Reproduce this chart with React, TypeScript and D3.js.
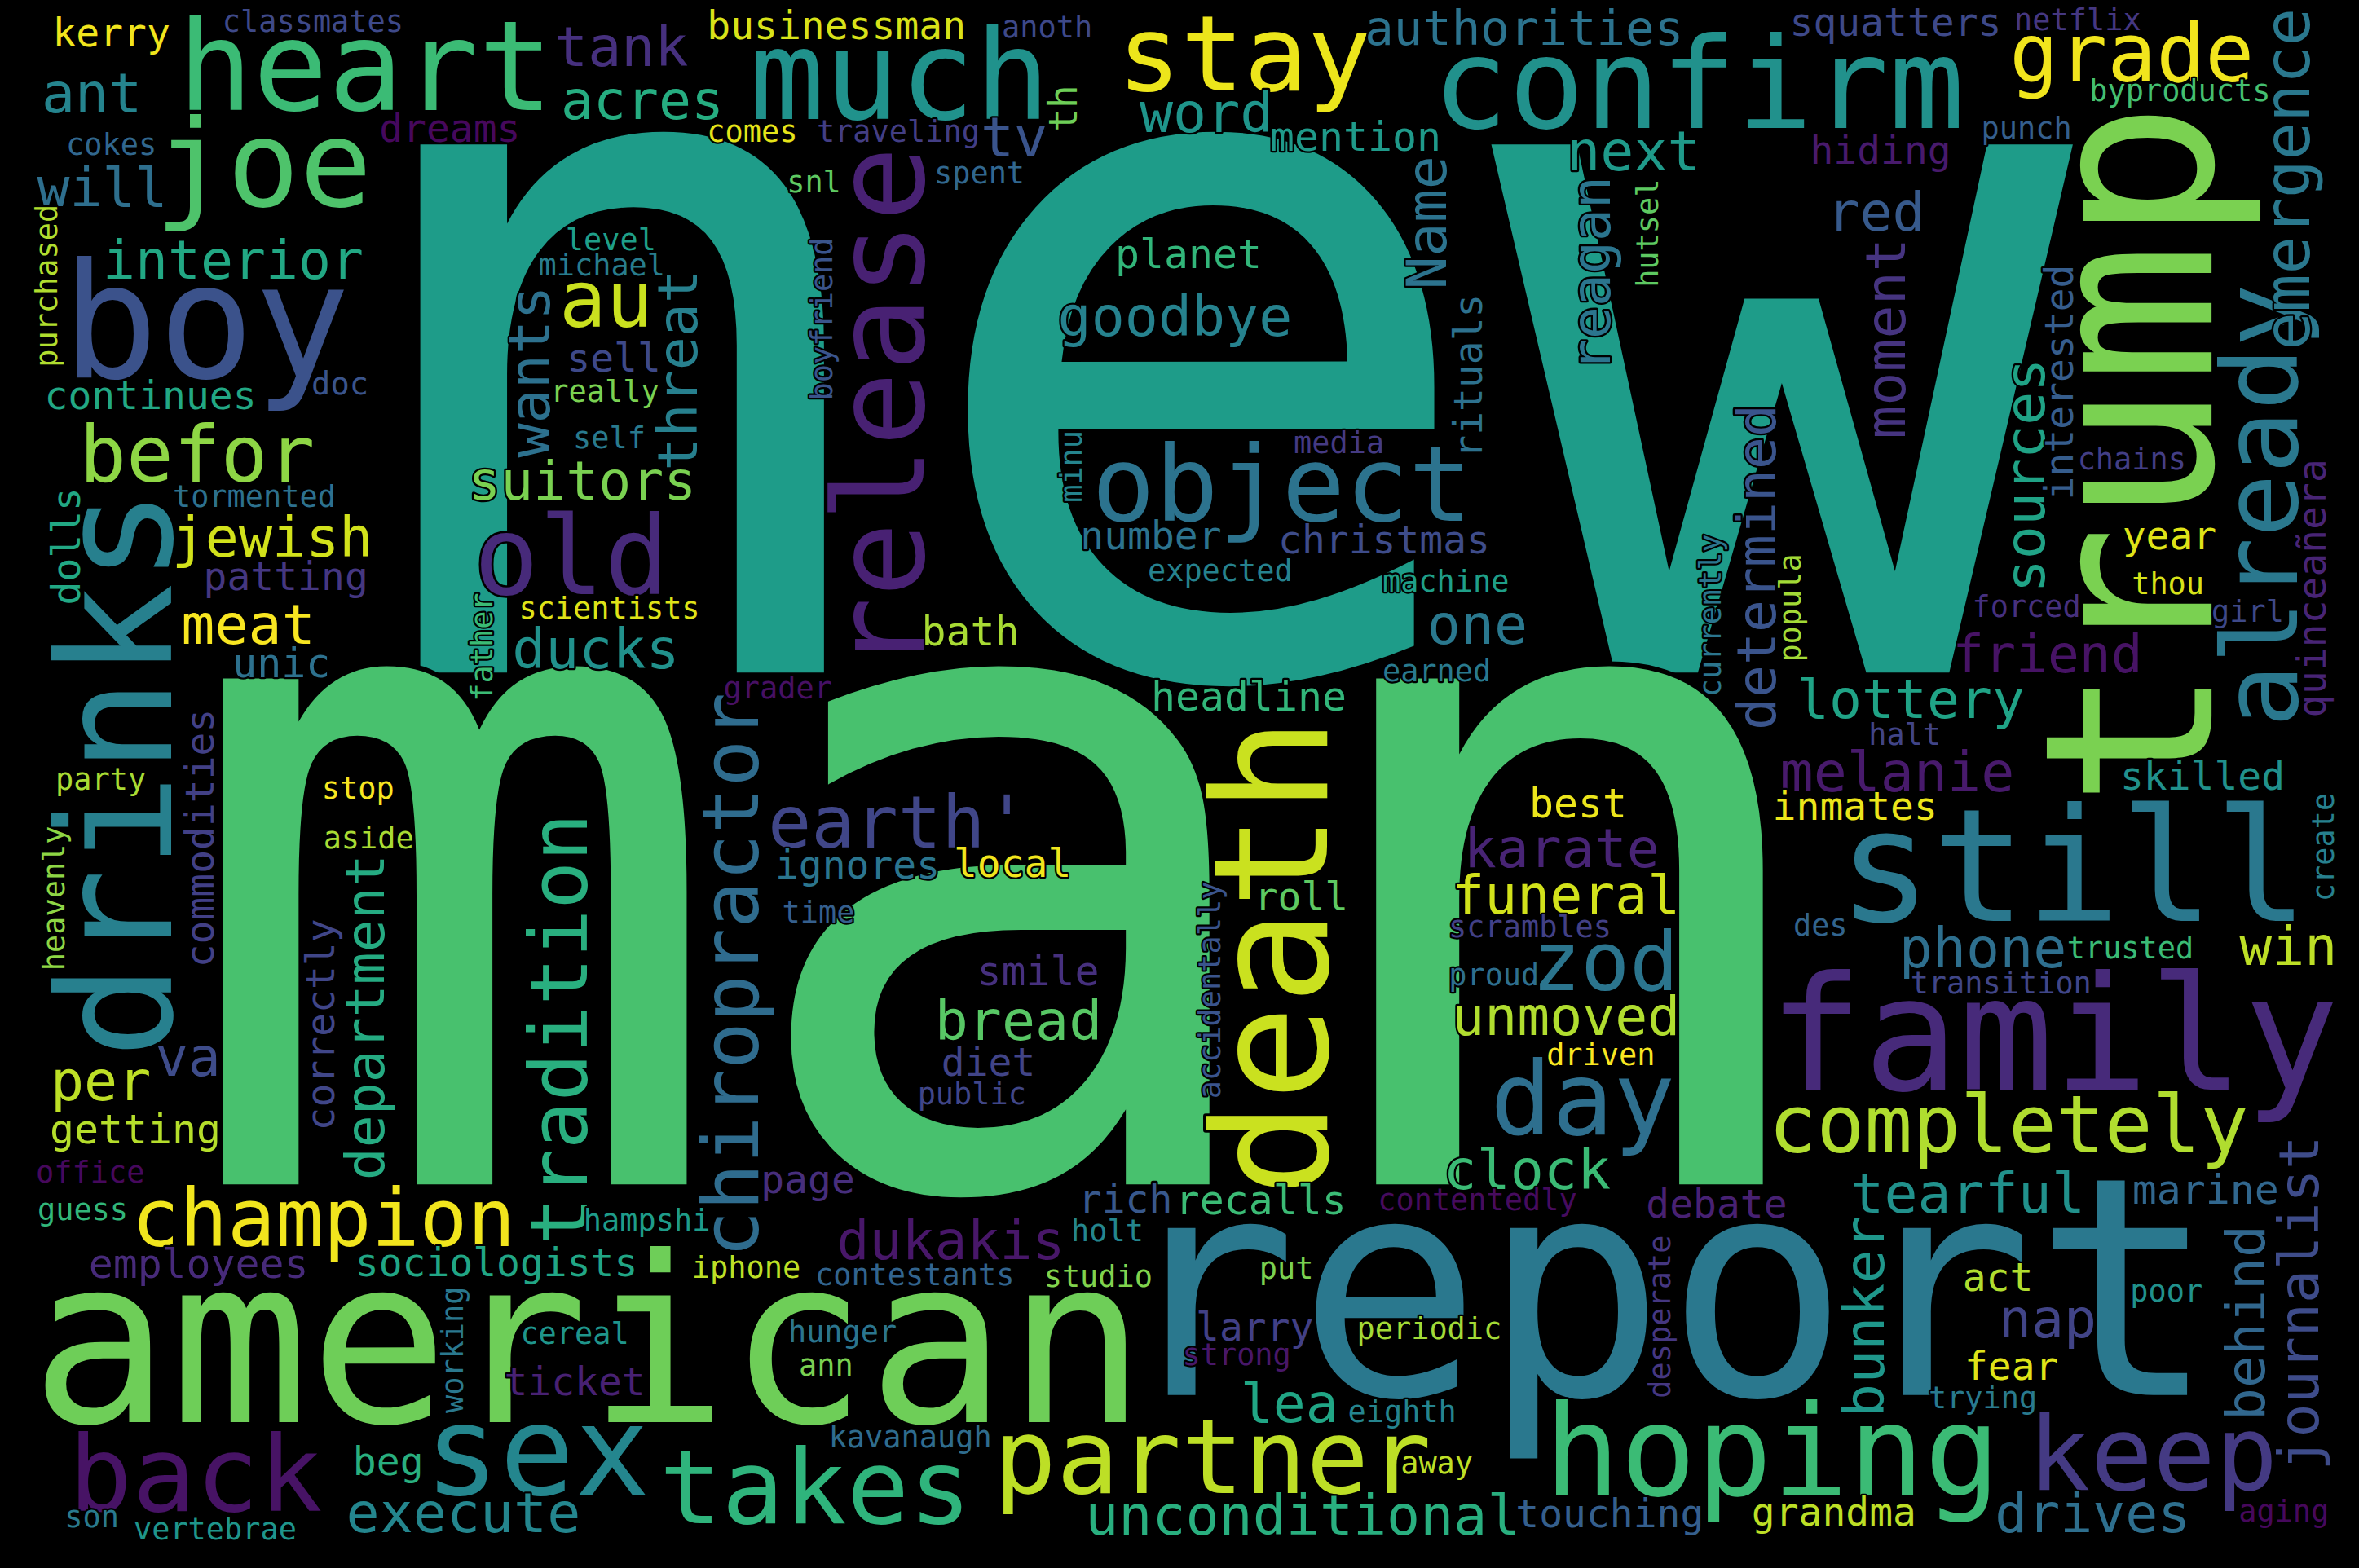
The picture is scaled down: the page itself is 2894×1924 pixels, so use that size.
import { useEffect, useRef } from "react";
import * as d3 from "d3";

const W = 2894;
const H = 1924;

// Layout frame the positions were read in (scaled up to the page below)
const FRAME_W = 1568;
const FRAME_H = 1042;

// [text, weight (font size in frame units), x, y, vertical, viridis tone]
// horizontal: x = centre, y = baseline; vertical (reads bottom-up): x = baseline, y = centre
type Word = [string, number, number, number, number, number];

const bigWords: Word[] = [
  ["new", 642, 798, 447, 0, 0.55],
  ["man", 615, 671, 787, 0, 0.71],
  ["report", 203, 1107, 927, 0, 0.4],
  ["american", 154, 391, 945, 0, 0.78],
  ["trump", 156, 1470, 302, 1, 0.8],
  ["family", 105, 1365, 724, 0, 0.12],
  ["still", 104, 1378, 612, 0, 0.4],
  ["death", 106, 882, 636, 1, 0.92],
  ["drinks", 105, 114, 514, 1, 0.43],
  ["boy", 106, 137, 251, 0, 0.25],
  ["hoping", 84, 1178, 994, 0, 0.68],
  ["release", 83, 614, 272, 1, 0.09],
  ["heart", 83, 243, 73, 0, 0.68],
  ["much", 83, 598, 79, 0, 0.51],
  ["confirm", 84, 1129, 85, 0, 0.5],
  ["sex", 83, 357, 993, 0, 0.46],
  ["joe", 80, 175, 137, 0, 0.72],
  ["old", 72, 380, 395, 0, 0.12],
  ["object", 70, 852, 346, 0, 0.38],
  ["stay", 70, 827, 60, 0, 0.97],
  ["already", 70, 1527, 336, 1, 0.4],
  ["back", 70, 130, 1004, 0, 0.05],
  ["takes", 69, 542, 1012, 0, 0.65],
  ["partner", 69, 806, 992, 0, 0.9],
  ["keep", 69, 1431, 990, 0, 0.17],
  ["day", 68, 1052, 754, 0, 0.36],
];

const midWords: Word[] = [
  ["grade", 54, 1417, 54, 0, 0.98],
  ["befor", 52, 131, 320, 0, 0.83],
  ["au", 52, 403, 217, 0, 0.92],
  ["champion", 53, 215, 828, 0, 0.98],
  ["completely", 53, 1335, 766, 0, 0.88],
  ["zod", 54, 1067, 658, 0, 0.39],
  ["earth'", 48, 597, 563, 0, 0.21],
  ["tradition", 53, 390, 684, 1, 0.63],
  ["chiropractor", 52, 504, 648, 1, 0.35],
  ["emergence", 42, 1535, 119, 1, 0.4],
  ["ant", 37, 61, 75, 0, 0.45],
  ["tank", 37, 413, 44, 0, 0.14],
  ["acres", 36, 427, 79, 0, 0.62],
  ["will", 36, 68, 137, 0, 0.36],
  ["interior", 36, 155, 185, 0, 0.6],
  ["suitors", 36, 387, 332, 0, 0.8],
  ["next", 37, 1086, 113, 0, 0.54],
  ["red", 36, 1247, 153, 0, 0.28],
  ["word", 37, 802, 88, 0, 0.52],
  ["tv", 37, 674, 104, 0, 0.26],
  ["goodbye", 37, 781, 223, 0, 0.44],
  ["jewish", 37, 181, 370, 0, 0.93],
  ["meat", 37, 165, 428, 0, 0.99],
  ["ducks", 37, 396, 444, 0, 0.5],
  ["one", 37, 982, 428, 0, 0.4],
  ["friend", 35, 1361, 447, 0, 0.05],
  ["lottery", 36, 1270, 477, 0, 0.58],
  ["melanie", 37, 1261, 526, 0, 0.07],
  ["karate", 36, 1038, 576, 0, 0.1],
  ["funeral", 36, 1041, 607, 0, 0.93],
  ["phone", 37, 1318, 643, 0, 0.36],
  ["win", 36, 1521, 641, 0, 0.9],
  ["bread", 37, 677, 691, 0, 0.74],
  ["unmoved", 36, 1041, 688, 0, 0.88],
  ["va", 36, 125, 715, 0, 0.23],
  ["per", 37, 67, 731, 0, 0.9],
  ["clock", 37, 1015, 790, 0, 0.68],
  ["tearful", 37, 1308, 806, 0, 0.5],
  ["dukakis", 36, 632, 837, 0, 0.06],
  ["nap", 36, 1361, 889, 0, 0.2],
  ["lea", 36, 857, 945, 0, 0.59],
  ["execute", 37, 308, 1018, 0, 0.46],
  ["drives", 36, 1391, 1018, 0, 0.36],
  ["unconditional", 37, 866, 1020, 0, 0.63],
  ["wants", 38, 365, 247, 1, 0.37],
  ["threat", 37, 463, 246, 1, 0.43],
  ["reagan", 36, 1070, 182, 1, 0.39],
  ["moment", 37, 1266, 225, 1, 0.15],
  ["sources", 37, 1359, 316, 1, 0.58],
  ["determined", 36, 1180, 377, 1, 0.26],
  ["Name", 37, 961, 148, 1, 0.38],
  ["department", 36, 255, 676, 1, 0.61],
  ["bunker", 37, 1252, 875, 1, 0.53],
  ["behind", 36, 1505, 879, 1, 0.33],
  ["journalist", 37, 1541, 866, 1, 0.23],
];

const smallWords: Word[] = [
  ["kerry", 26, 74, 31, 0, 0.98],
  ["businessman", 26, 556, 26, 0, 0.94],
  ["squatters", 26, 1260, 24, 0, 0.22],
  ["authorities", 32, 1013, 30, 0, 0.38],
  ["dreams", 26, 299, 94, 0, 0.02],
  ["continues", 26, 100, 272, 0, 0.6],
  ["sell", 26, 408, 247, 0, 0.22],
  ["hiding", 26, 1250, 109, 0, 0.07],
  ["mention", 27, 901, 100, 0, 0.54],
  ["planet", 27, 790, 178, 0, 0.66],
  ["patting", 26, 190, 392, 0, 0.16],
  ["unic", 27, 187, 450, 0, 0.37],
  ["number", 26, 765, 365, 0, 0.38],
  ["christmas", 26, 920, 368, 0, 0.23],
  ["bath", 27, 645, 429, 0, 0.87],
  ["headline", 27, 830, 472, 0, 0.66],
  ["ignores", 26, 570, 584, 0, 0.39],
  ["local", 26, 673, 583, 0, 0.98],
  ["roll", 26, 865, 605, 0, 0.75],
  ["smile", 27, 690, 655, 0, 0.14],
  ["diet", 26, 657, 715, 0, 0.2],
  ["best", 27, 1049, 543, 0, 0.97],
  ["year", 26, 1442, 365, 0, 0.95],
  ["skilled", 26, 1464, 525, 0, 0.5],
  ["inmates", 26, 1233, 545, 0, 0.97],
  ["getting", 27, 90, 760, 0, 0.89],
  ["employees", 27, 132, 849, 0, 0.12],
  ["sociologists", 26, 330, 848, 0, 0.59],
  ["page", 26, 537, 793, 0, 0.13],
  ["rich", 26, 748, 806, 0, 0.27],
  ["recalls", 27, 838, 807, 0, 0.68],
  ["debate", 26, 1141, 809, 0, 0.09],
  ["marine", 27, 1466, 800, 0, 0.33],
  ["larry", 26, 834, 891, 0, 0.19],
  ["act", 26, 1328, 858, 0, 0.88],
  ["fear", 26, 1337, 917, 0, 0.95],
  ["ticket", 26, 382, 927, 0, 0.09],
  ["beg", 26, 258, 980, 0, 0.63],
  ["grandma", 26, 1219, 1014, 0, 0.9],
  ["touching", 26, 1070, 1015, 0, 0.3],
  ["dolls", 26, 53, 363, 1, 0.6],
  ["th", 26, 716, 72, 1, 0.78],
  ["interested", 26, 1378, 254, 1, 0.29],
  ["quinceañera", 26, 1546, 391, 1, 0.1],
  ["rituals", 26, 985, 250, 1, 0.37],
  ["commodities", 26, 142, 557, 1, 0.19],
  ["correctly", 26, 222, 681, 1, 0.21],
];

const tinyWords: Word[] = [
  ["classmates", 20, 208, 21, 0, 0.22],
  ["anoth", 20, 696, 25, 0, 0.22],
  ["netflix", 20, 1381, 20, 0, 0.16],
  ["cokes", 20, 74, 103, 0, 0.33],
  ["byproducts", 20, 1449, 67, 0, 0.7],
  ["punch", 20, 1347, 92, 0, 0.3],
  ["comes", 20, 500, 94, 0, 0.96],
  ["traveling", 20, 597, 94, 0, 0.18],
  ["spent", 20, 651, 122, 0, 0.33],
  ["snl", 20, 541, 128, 0, 0.75],
  ["level", 20, 406, 166, 0, 0.56],
  ["michael", 20, 400, 183, 0, 0.42],
  ["doc", 21, 226, 262, 0, 0.26],
  ["really", 20, 402, 267, 0, 0.8],
  ["self", 20, 405, 298, 0, 0.41],
  ["tormented", 20, 169, 337, 0, 0.37],
  ["media", 20, 890, 301, 0, 0.17],
  ["chains", 20, 1417, 312, 0, 0.18],
  ["expected", 20, 811, 386, 0, 0.44],
  ["machine", 20, 961, 393, 0, 0.56],
  ["scientists", 20, 405, 411, 0, 0.95],
  ["thou", 20, 1441, 395, 0, 0.94],
  ["girl", 20, 1494, 413, 0, 0.22],
  ["forced", 20, 1347, 410, 0, 0.14],
  ["earned", 20, 955, 453, 0, 0.41],
  ["grader", 20, 517, 464, 0, 0.04],
  ["halt", 20, 1266, 495, 0, 0.2],
  ["party", 20, 67, 525, 0, 0.87],
  ["stop", 20, 238, 531, 0, 0.99],
  ["aside", 20, 245, 564, 0, 0.87],
  ["time", 20, 544, 613, 0, 0.3],
  ["scrambles", 20, 1017, 623, 0, 0.19],
  ["des", 20, 1210, 622, 0, 0.32],
  ["proud", 20, 993, 655, 0, 0.36],
  ["trusted", 20, 1416, 637, 0, 0.68],
  ["transition", 20, 1330, 660, 0, 0.21],
  ["driven", 20, 1064, 708, 0, 0.99],
  ["public", 20, 646, 734, 0, 0.21],
  ["office", 20, 60, 786, 0, 0.02],
  ["guess", 20, 55, 811, 0, 0.66],
  ["hampshi", 20, 430, 818, 0, 0.55],
  ["contentedly", 20, 982, 804, 0, 0.03],
  ["holt", 20, 736, 825, 0, 0.46],
  ["iphone", 20, 496, 849, 0, 0.9],
  ["contestants", 20, 608, 854, 0, 0.32],
  ["studio", 20, 730, 855, 0, 0.81],
  ["put", 20, 855, 850, 0, 0.8],
  ["poor", 20, 1440, 865, 0, 0.5],
  ["cereal", 20, 382, 893, 0, 0.52],
  ["hunger", 20, 560, 892, 0, 0.39],
  ["periodic", 20, 950, 890, 0, 0.86],
  ["strong", 20, 822, 907, 0, 0.06],
  ["ann", 20, 549, 914, 0, 0.8],
  ["eighth", 20, 932, 945, 0, 0.45],
  ["trying", 20, 1318, 936, 0, 0.41],
  ["kavanaugh", 20, 605, 962, 0, 0.35],
  ["away", 20, 955, 979, 0, 0.9],
  ["son", 20, 61, 1015, 0, 0.41],
  ["vertebrae", 20, 143, 1023, 0, 0.52],
  ["aging", 20, 1518, 1011, 0, 0.02],
  ["purchased", 20, 38, 190, 1, 0.88],
  ["hutsel", 20, 1102, 155, 1, 0.75],
  ["boyfriend", 20, 553, 212, 1, 0.26],
  ["minu", 20, 719, 310, 1, 0.45],
  ["currently", 20, 1144, 409, 1, 0.39],
  ["popula", 20, 1197, 404, 1, 0.86],
  ["create", 20, 1551, 563, 1, 0.43],
  ["heavenly", 20, 43, 597, 1, 0.83],
  ["father", 20, 327, 430, 1, 0.68],
  ["accidentally", 20, 811, 658, 1, 0.26],
  ["working", 20, 308, 897, 1, 0.4],
  ["desperate", 20, 1110, 875, 1, 0.16],
];

const WordCloud = () => {
  const ref = useRef(null);

  useEffect(() => {
    const svg = d3.select(ref.current);
    svg.selectAll("*").remove();

    const x = d3.scaleLinear().domain([0, FRAME_W]).range([0, W]);
    const y = d3.scaleLinear().domain([0, FRAME_H]).range([0, H]);
    const size = d3.scaleLinear().domain([0, FRAME_W]).range([0, W]);

    svg.append("rect").attr("width", W).attr("height", H).attr("fill", "#000");

    // biggest first so the small words sit on top
    const words = [...bigWords, ...midWords, ...smallWords, ...tinyWords].sort(
      (a, b) => b[1] - a[1]
    );

    svg
      .append("g")
      .selectAll("text")
      .data(words)
      .join("text")
      .attr("transform", (d) =>
        d[4]
          ? `translate(${x(d[2])},${y(d[3])}) rotate(-90)`
          : `translate(${x(d[2])},${y(d[3])})`
      )
      .attr("text-anchor", "middle")
      .attr("font-family", "'DejaVu Sans Mono', monospace")
      .attr("font-size", (d) => size(d[1]))
      .attr("fill", (d) => d3.interpolateViridis(d[5]))
      // thin black halo keeps a gap where glyphs would touch
      .attr("stroke", "#000")
      .attr("stroke-width", (d) => Math.min(4 + size(d[1]) * 0.01, 12))
      .attr("stroke-linejoin", "round")
      .attr("paint-order", "stroke")
      .text((d) => d[0]);
  }, []);

  return (
    <svg
      ref={ref}
      width={W}
      height={H}
      style={{ position: "fixed", left: 0, top: 0, display: "block" }}
    ></svg>
  );
};

export default function App() {
  return <WordCloud />;
}
